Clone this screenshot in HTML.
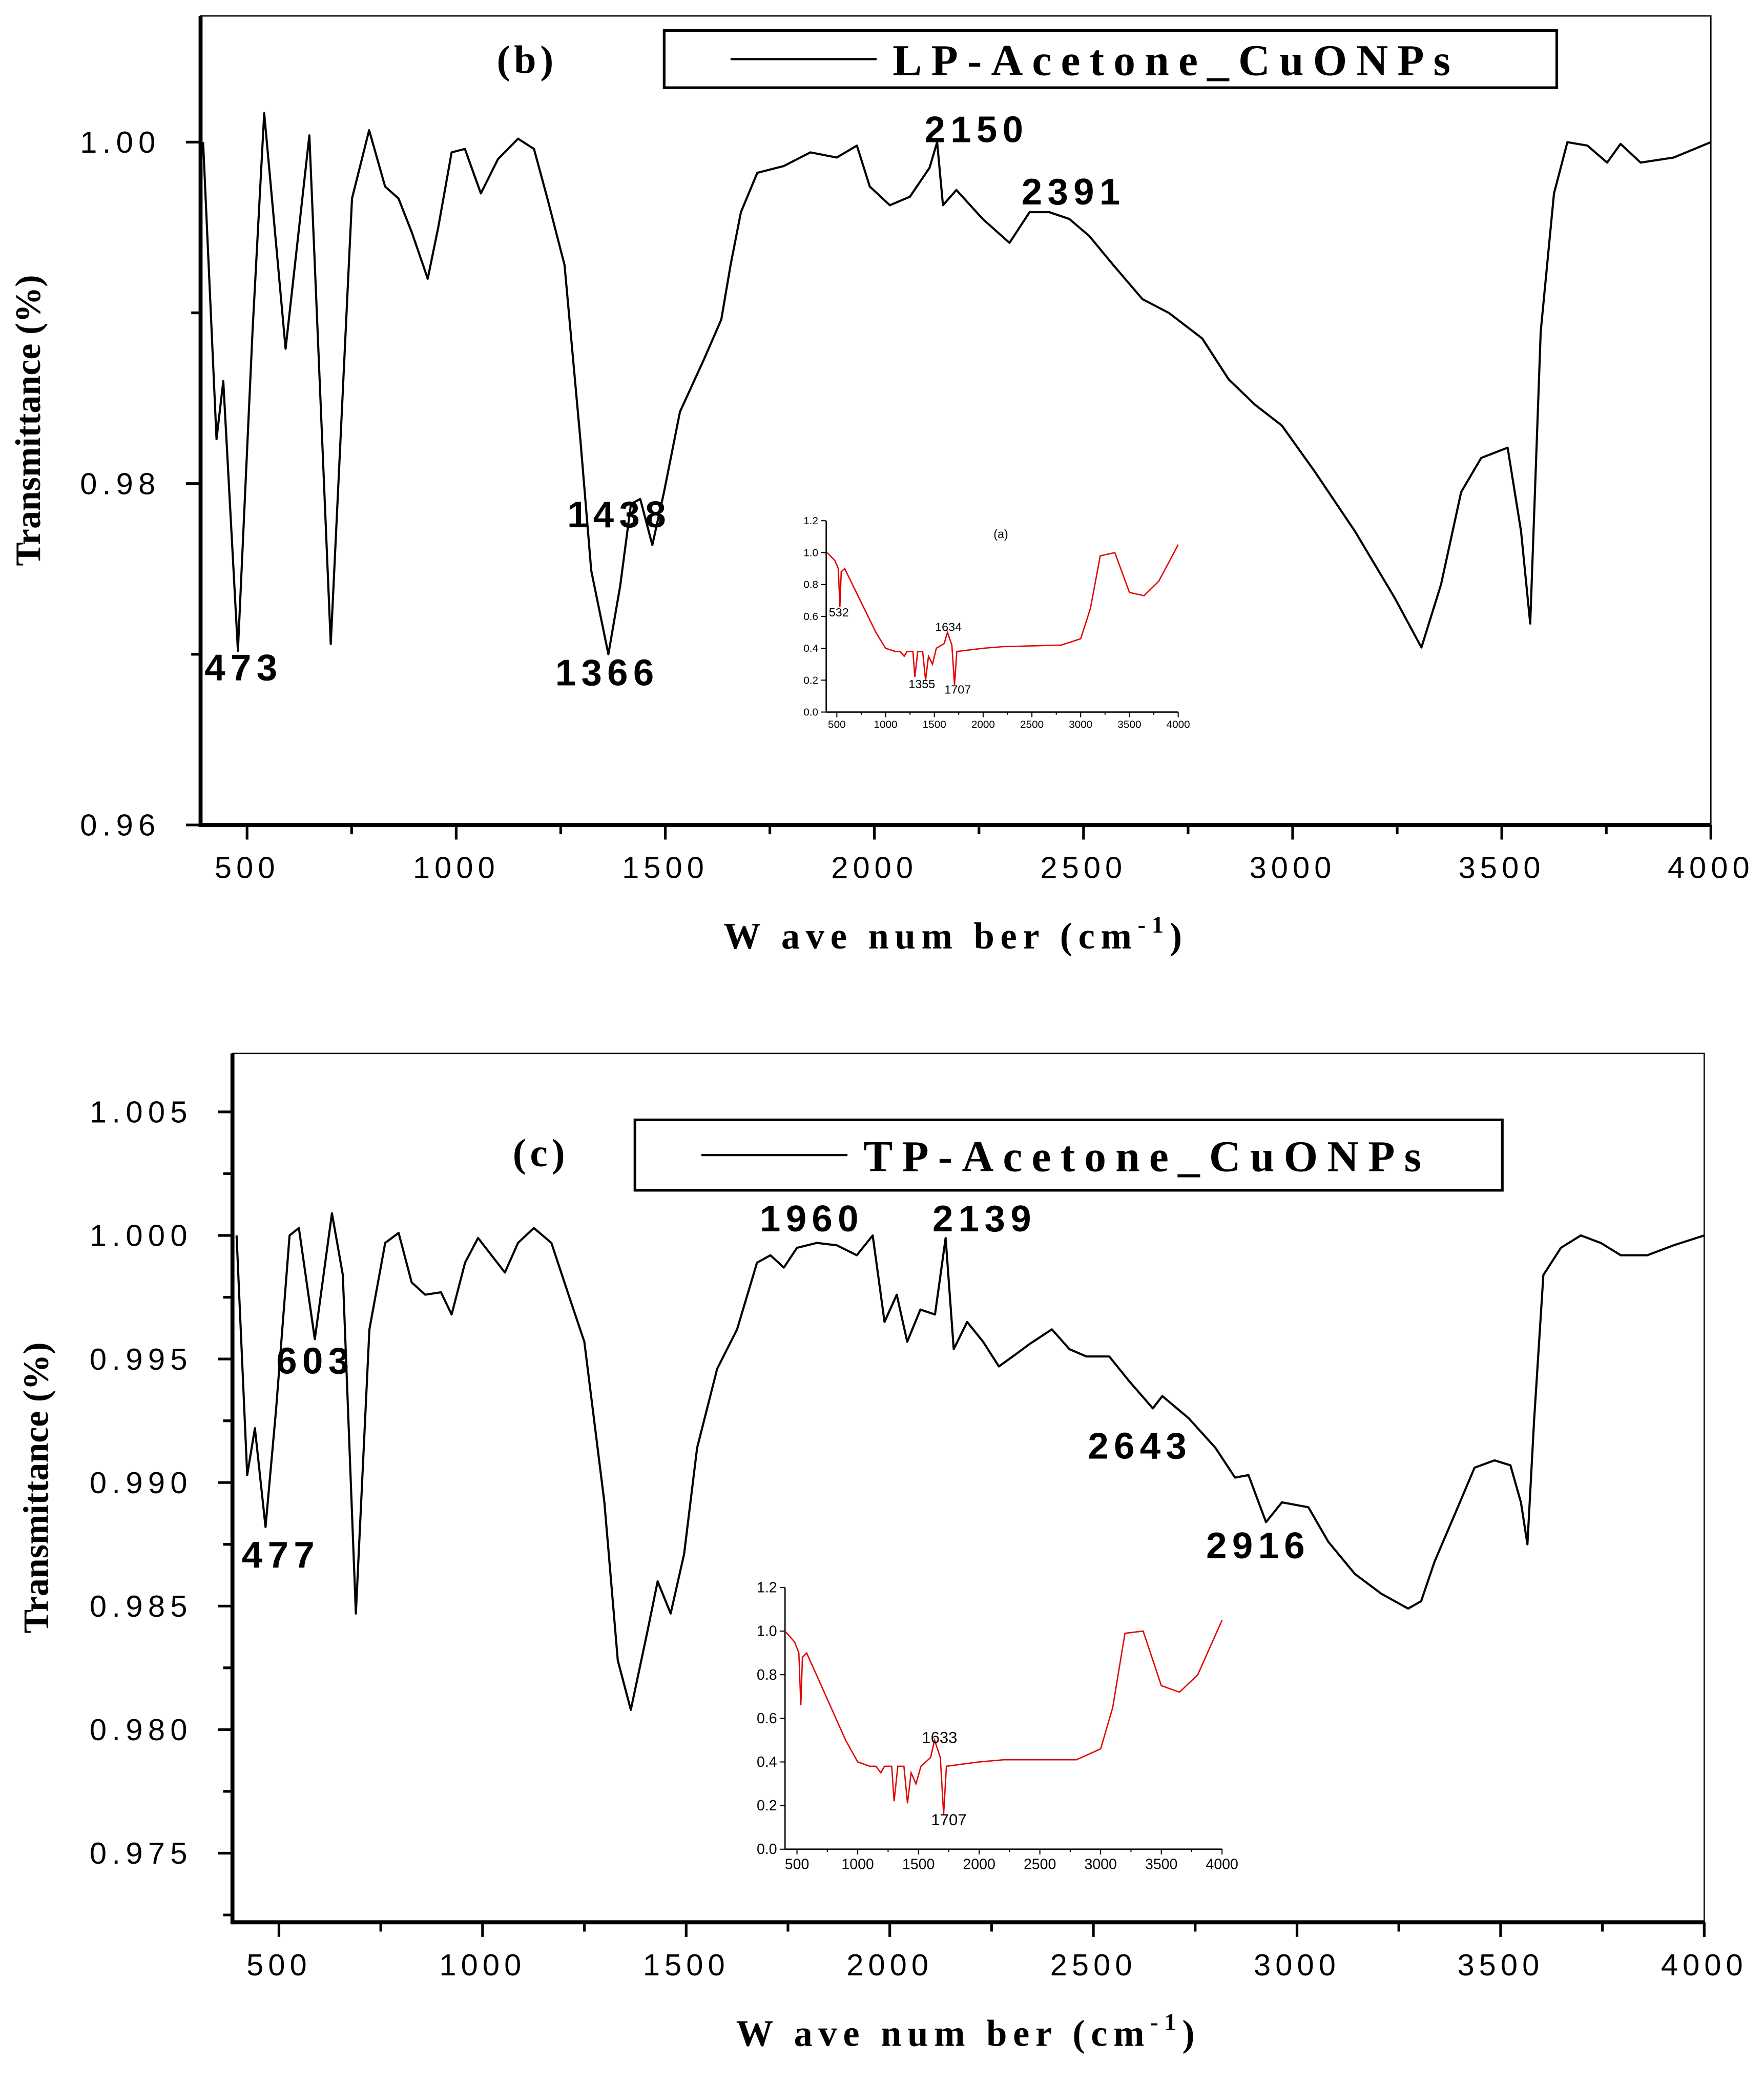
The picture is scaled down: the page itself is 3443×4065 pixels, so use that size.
<!DOCTYPE html>
<html><head><meta charset="utf-8">
<style>html,body{margin:0;padding:0;background:#fff}svg{display:block}</style></head>
<body>
<svg id="fig" xmlns="http://www.w3.org/2000/svg" width="3443" height="4065" viewBox="0 0 1328 1568" preserveAspectRatio="none" font-family="Liberation Sans, sans-serif">
<rect width="1328" height="1568" fill="#fff"/>
<g id="gb"></g>
<g id="gc"></g>
</svg>
<script>
// ---- Panel (b) data ----
const bWave=[395,427,443,478,513,541,592,649,700,751,792,830,862,894,932,957,989,1021,1059,1100,1148,1186,1218,1259,1297,1323,1364,1392,1418,1440,1469,1497,1535,1593,1634,1656,1681,1720,1783,1847,1910,1958,1989,2037,2085,2132,2150,2164,2196,2259,2323,2371,2418,2466,2514,2571,2641,2704,2784,2847,2911,2974,3053,3149,3244,3308,3355,3403,3451,3514,3546,3568,3593,3625,3657,3705,3752,3784,3832,3911,4000];
const bTrans=[1.000,0.9826,0.986,0.9702,0.9889,1.0017,0.9879,1.0004,0.9706,0.9967,1.0007,0.9974,0.9967,0.9947,0.992,0.995,0.9994,0.9996,0.997,0.999,1.0002,0.9996,0.9967,0.9928,0.9826,0.9749,0.970,0.974,0.9788,0.9791,0.9764,0.9795,0.9842,0.9873,0.9896,0.9928,0.9959,0.9982,0.9986,0.9994,0.9991,0.9998,0.9974,0.9963,0.9968,0.9985,1.000,0.9963,0.9972,0.9955,0.9941,0.9959,0.9959,0.9955,0.9945,0.9928,0.9908,0.990,0.9885,0.9861,0.9846,0.9834,0.9807,0.9772,0.9733,0.9704,0.9741,0.9795,0.9815,0.9821,0.9772,0.9718,0.9889,0.997,1.000,0.9998,0.9988,0.9999,0.9988,0.9991,1.000];
const bYTicks=[0.96,0.98,1.00];
const bYLabels=["0.96","0.98","1.00"];
const xTicks=[500,1000,1500,2000,2500,3000,3500,4000];
// ---- Panel (c) data ----
const cWave=[396,422,441,467,493,526,549,588,630,657,689,722,761,794,826,859,898,924,957,989,1022,1055,1087,1126,1169,1211,1250,1299,1332,1364,1404,1430,1462,1495,1527,1576,1625,1674,1707,1740,1772,1821,1870,1919,1958,1987,2017,2043,2075,2111,2137,2157,2190,2229,2268,2310,2343,2398,2441,2483,2539,2588,2646,2669,2734,2800,2848,2881,2924,2963,3028,3077,3142,3207,3273,3305,3338,3387,3436,3485,3524,3550,3566,3582,3605,3648,3697,3746,3795,3860,3925,4000];
const cTrans=[1.000,0.9903,0.9922,0.9882,0.993,1.000,1.0003,0.9958,1.0009,0.9984,0.9847,0.9962,0.9997,1.0001,0.9981,0.9976,0.9977,0.9968,0.9989,0.9999,0.9992,0.9985,0.9997,1.0003,0.9997,0.9976,0.9957,0.9892,0.9828,0.9808,0.9839,0.986,0.9847,0.9871,0.9914,0.9946,0.9962,0.9989,0.9992,0.9987,0.9995,0.9997,0.9996,0.9992,1.000,0.9965,0.9976,0.9957,0.997,0.9968,0.9999,0.9954,0.9965,0.9957,0.9947,0.9952,0.9956,0.9962,0.9954,0.9951,0.9951,0.9941,0.993,0.9935,0.9926,0.9914,0.9902,0.9903,0.9884,0.9892,0.989,0.9876,0.9863,0.9855,0.9849,0.9852,0.9868,0.9887,0.9906,0.9909,0.9907,0.9892,0.9875,0.9925,0.9984,0.9995,1.000,0.9997,0.9992,0.9992,0.9996,1.000];
const cYTicks=[0.975,0.980,0.985,0.990,0.995,1.000,1.005];
const cYLabels=["0.975","0.980","0.985","0.990","0.995","1.000","1.005"];
// ---- Inset data ----
const iWaveB=[400,480,515,532,545,580,700,900,1000,1100,1150,1190,1220,1280,1300,1330,1380,1410,1440,1480,1520,1600,1634,1680,1707,1730,2000,2200,2800,3000,3100,3200,3350,3500,3650,3800,4000];
const iValB=[1.0,0.95,0.9,0.66,0.88,0.9,0.75,0.5,0.4,0.38,0.38,0.35,0.38,0.38,0.22,0.38,0.38,0.2,0.35,0.3,0.4,0.43,0.5,0.42,0.17,0.38,0.4,0.41,0.42,0.46,0.65,0.98,1.0,0.75,0.73,0.82,1.05];
const iWaveC=[400,480,515,532,545,580,700,900,1000,1100,1150,1190,1220,1280,1300,1330,1380,1410,1440,1480,1520,1600,1633,1680,1707,1730,2000,2200,2800,3000,3100,3200,3350,3500,3650,3800,4000];
const iValC=[1.0,0.95,0.9,0.66,0.88,0.9,0.75,0.5,0.4,0.38,0.38,0.35,0.38,0.38,0.22,0.38,0.38,0.21,0.35,0.3,0.38,0.42,0.5,0.42,0.16,0.38,0.4,0.41,0.41,0.46,0.65,0.99,1.0,0.75,0.72,0.8,1.05];
const iYTicks=[0,0.2,0.4,0.6,0.8,1.0,1.2];
const iYLabels=["0.0","0.2","0.4","0.6","0.8","1.0","1.2"];

const NS="http://www.w3.org/2000/svg";
function mk(parent,tag,attrs,txt){const e=document.createElementNS(NS,tag);for(const k in attrs)e.setAttribute(k,attrs[k]);if(txt!==undefined)e.textContent=txt;parent.appendChild(e);return e;}

function panel(g,P){
  const sx=w=>P.x0+(w-500)*(P.x4000-P.x0)/3500;
  const sy=t=>P.yA+(P.tA-t)*(P.yB-P.yA)/(P.tA-P.tB);
  const fr=mk(g,'rect',{x:P.L,y:P.T,width:P.R-P.L,height:P.B-P.T,fill:'none',stroke:'#000','stroke-width':1});
  
  const la=mk(g,'line',{x1:P.L,y1:P.T,x2:P.L,y2:P.B+1.5,stroke:'#000','stroke-width':3});
  
  const ba=mk(g,'line',{x1:P.L,y1:P.B,x2:P.R,y2:P.B,stroke:'#000','stroke-width':3});
  
  for(let w=250;w<=4000;w+=250){const x=sx(w);if(x<P.L)continue;const major=w%500===0;
    const t=mk(g,'line',{x1:x,y1:P.B,x2:x,y2:P.B+(major?11:7),stroke:'#000','stroke-width':2});
    }
  xTicks.forEach(w=>{const t=mk(g,'text',{x:sx(w),y:P.B+40,'text-anchor':'middle','font-size':23,'letter-spacing':3.5},String(w));
    });
  const step=P.yT[1]-P.yT[0];
  for(let i=0;i<P.yT.length;i++){const y=sy(P.yT[i]);
    const t=mk(g,'line',{x1:P.L-11,y1:y,x2:P.L,y2:y,stroke:'#000','stroke-width':2});
    
    const l=mk(g,'text',{x:P.L-30,y:y+8,'text-anchor':'end','font-size':23,'letter-spacing':4},P.yL[i]);
    
    [0.5,-0.5].forEach(f=>{const ym=sy(P.yT[i]+f*step);if(ym>P.T&&ym<P.B){const m=mk(g,'line',{x1:P.L-7,y1:ym,x2:P.L,y2:ym,stroke:'#000','stroke-width':2});
      }});
  }
  const d=P.w.map((w,i)=>(i?'L':'M')+sx(w).toFixed(1)+','+sy(P.t[i]).toFixed(1)).join('');
  const s=mk(g,'path',{d:d,fill:'none',stroke:'#000','stroke-width':1.6,'stroke-linejoin':'round'});
  
  const yt=mk(g,'text',{x:0,y:0,transform:`translate(${P.ytx},${(P.T+P.B)/2}) rotate(-90)`,'text-anchor':'middle','font-size':27,'font-weight':'bold','font-family':'Liberation Serif, serif'},'Transmittance (%)');
  
  const xt=mk(g,'text',{x:(P.L+P.R)/2,y:P.B+93,'text-anchor':'middle','font-size':28,'font-weight':'bold','letter-spacing':4.5,'font-family':'Liberation Serif, serif'});
  
  xt.innerHTML='W ave num ber (cm<tspan dy="-12" font-size="18">-1</tspan><tspan dy="12">)</tspan>';
  const lb=mk(g,'rect',{x:P.lg[0],y:P.lg[1],width:P.lg[2],height:P.lg[3],fill:'#fff',stroke:'#000','stroke-width':2});
  
  const ll=mk(g,'line',{x1:P.lg[0]+50,y1:P.lg[1]+P.lg[3]/2,x2:P.lg[0]+160,y2:P.lg[1]+P.lg[3]/2,stroke:'#000','stroke-width':1.6});
  
  const lt=mk(g,'text',{x:P.lg[0]+172,y:P.lg[1]+P.lg[3]/2+12,'font-size':33,'font-weight':'bold','letter-spacing':7,'font-family':'Liberation Serif, serif'},P.name);
  
  const pl=mk(g,'text',{x:P.plab[0],y:P.plab[1],'font-size':30,'font-weight':'bold','font-family':'Liberation Serif, serif','letter-spacing':3},P.plab[2]);
  
  P.peaks.forEach(p=>{const t=mk(g,'text',{x:p[0],y:p[1],'font-size':28,'font-weight':'bold','letter-spacing':4},p[2]);
    });
  const I=P.inset;
  const ix=w=>I.x500+(w-500)*(I.x4000-I.x500)/3500;
  const iy=v=>I.y0-v*(I.y0-I.y12)/1.2;
  const ig=mk(g,'g',{});
  mk(ig,'line',{x1:I.L,y1:iy(1.2),x2:I.L,y2:I.y0,stroke:'#000','stroke-width':1});
  mk(ig,'line',{x1:I.L,y1:I.y0,x2:ix(4000),y2:I.y0,stroke:'#000','stroke-width':1});
  for(let w=500;w<=4000;w+=250){mk(ig,'line',{x1:ix(w),y1:I.y0,x2:ix(w),y2:I.y0+(w%500?2:4),stroke:'#000','stroke-width':0.8});}
  for(let w=500;w<=4000;w+=500){mk(ig,'text',{x:ix(w),y:I.y0+I.fs+4,'text-anchor':'middle','font-size':I.fs},String(w));}
  iYTicks.forEach((v,i)=>{mk(ig,'line',{x1:I.L-4,y1:iy(v),x2:I.L,y2:iy(v),stroke:'#000','stroke-width':0.8});
    mk(ig,'text',{x:I.L-6,y:iy(v)+I.fs/3,'text-anchor':'end','font-size':I.fs},iYLabels[i]);});
  const di=I.w.map((w,i)=>(i?'L':'M')+ix(w).toFixed(1)+','+iy(I.v[i]).toFixed(1)).join('');
  const ip=mk(ig,'path',{d:di,fill:'none',stroke:'#e00000','stroke-width':1});
  
  I.labels.forEach(p=>{mk(ig,'text',{x:p[0],y:p[1],'font-size':I.fs+1},p[2]);});
}

panel(document.getElementById('gb'),{L:151,R:1288,T:12,B:621,x0:186,x4000:1288,yA:107,tA:1.00,yB:621,tB:0.96,
  yT:bYTicks,yL:bYLabels,w:bWave,t:bTrans,ytx:30,name:'LP-Acetone_CuONPs',lg:[500,23,672,43],plab:[374,55,'(b)'],
  peaks:[[154,512,'473'],[418,516,'1366'],[427,397,'1438'],[696,107,'2150'],[769,154,'2391']],
  inset:{L:622,x500:630,x4000:887,y0:536,y12:392,fs:8,w:iWaveB,v:iValB,labels:[[624,464,'532'],[704,475,'1634'],[684,518,'1355'],[711,522,'1707'],[748,405,'(a)']]}});
panel(document.getElementById('gc'),{L:175,R:1283,T:793,B:1447,x0:210,x4000:1283,yA:930,tA:1.000,yB:1395,tB:0.975,
  yT:cYTicks,yL:cYLabels,w:cWave,t:cTrans,ytx:36,name:'TP-Acetone_CuONPs',lg:[478,843,653,53],plab:[386,878,'(c)'],
  peaks:[[208,1034,'603'],[182,1180,'477'],[572,927,'1960'],[702,927,'2139'],[819,1098,'2643'],[908,1173,'2916']],
  inset:{L:591,x500:600,x4000:920,y0:1392,y12:1195,fs:11,w:iWaveC,v:iValC,labels:[[694,1312,'1633'],[701,1374,'1707']]}});
</script>
</body></html>
